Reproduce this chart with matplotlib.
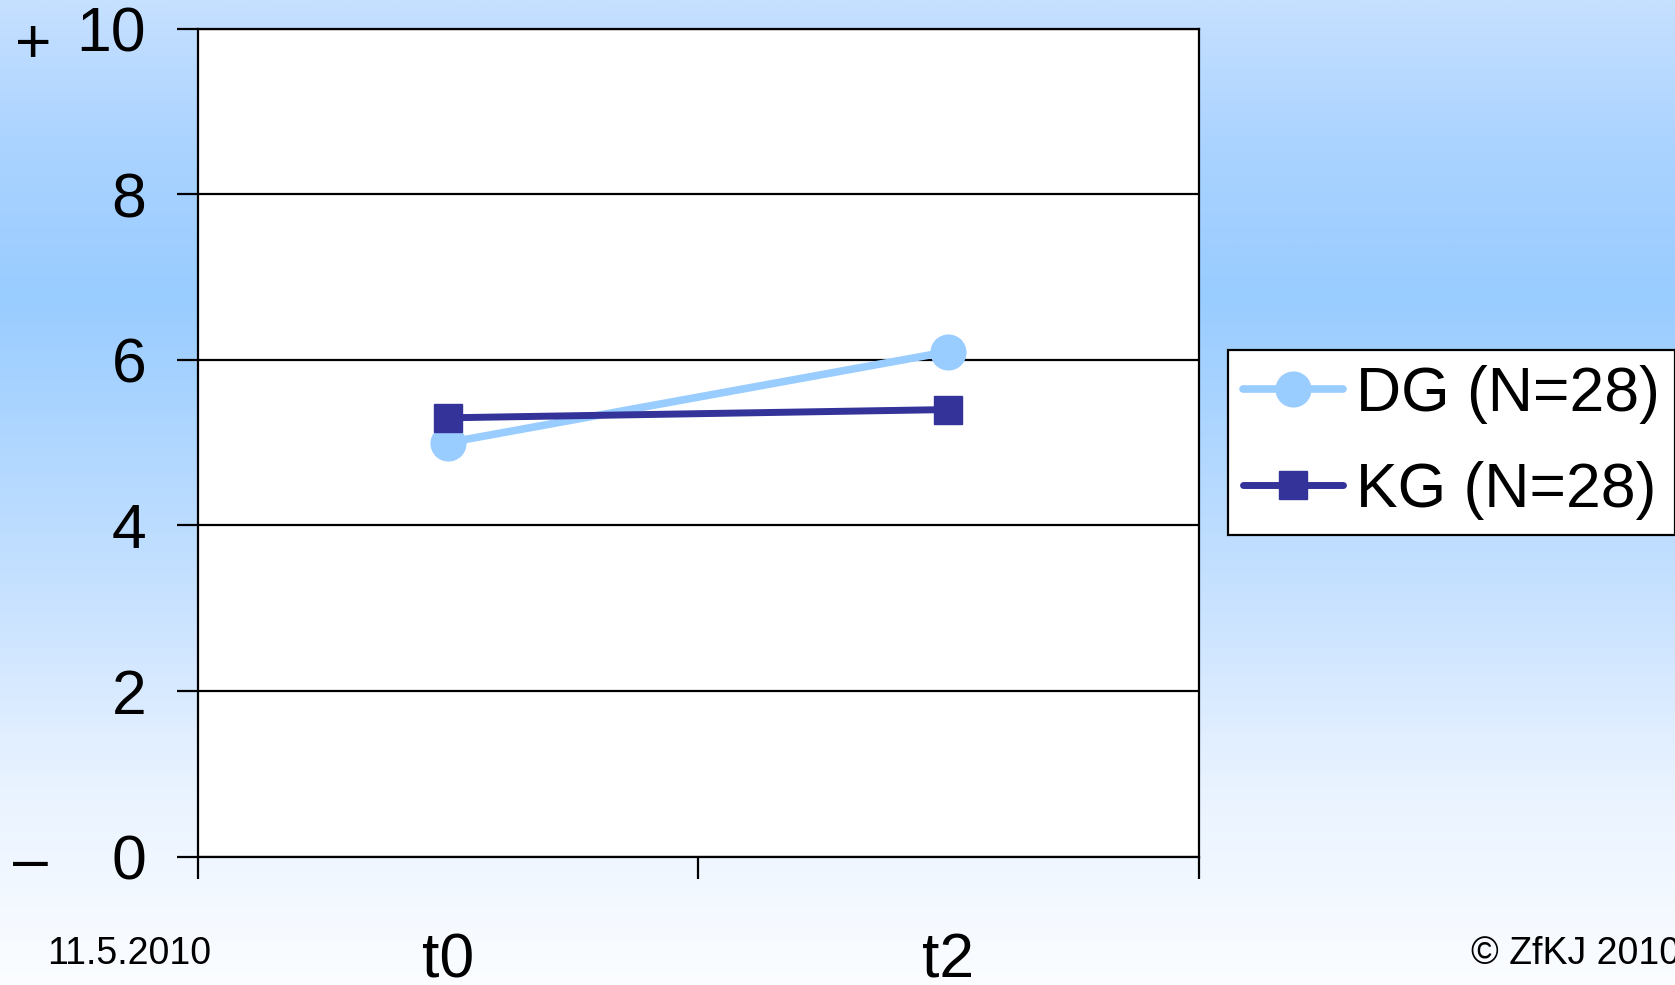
import numpy as np
import matplotlib
matplotlib.use("Agg")
import matplotlib.pyplot as plt
from matplotlib.colors import LinearSegmentedColormap

plt.rcParams['font.family'] = ['Liberation Sans', 'DejaVu Sans']

# Data
categories = ["t0", "t2"]
dg_values = [5.0, 6.1]
kg_values = [5.3, 5.4]
dg_label = "DG (N=28)"
kg_label = "KG (N=28)"
y_ticks = [0, 2, 4, 6, 8, 10]

DG_COLOR = "#99CCFF"
KG_COLOR = "#333399"

fig = plt.figure(figsize=(16.75, 9.85), dpi=100)

# Slide background: vertical blue gradient
bg = fig.add_axes([0, 0, 1, 1], zorder=-10)
stops = [(0.0, "#C6E0FF"), (0.15, "#AAD3FF"), (0.30, "#99CCFF"),
         (0.61, "#C8E2FF"), (0.79, "#E8F2FF"), (1.0, "#FBFDFF")]
cmap = LinearSegmentedColormap.from_list("slide", stops)
grad = np.linspace(0, 1, 512).reshape(-1, 1)
bg.imshow(grad, aspect="auto", cmap=cmap, extent=[0, 1, 1, 0])
bg.set_xlim(0, 1)
bg.set_ylim(1, 0)
bg.axis("off")

ax = fig.add_axes([0.118, 0.1304, 0.5976, 0.8404])
ax.set_facecolor("white")

x = np.arange(len(categories))
ax.plot(x, dg_values, color=DG_COLOR, lw=5.5, marker="o", ms=25,
        mec=DG_COLOR, mfc=DG_COLOR, zorder=3, label=dg_label,
        solid_capstyle="round")
ax.plot(x, kg_values, color=KG_COLOR, lw=5.0, marker="s", ms=20,
        mec=KG_COLOR, mfc=KG_COLOR, zorder=4, label=kg_label,
        solid_capstyle="round")

ax.set_xlim(-0.5, len(categories) - 0.5)
ax.set_ylim(0, 10)

# y axis
ax.set_yticks(y_ticks)
ax.set_yticklabels([str(v) for v in y_ticks], fontsize=45)
ax.yaxis.grid(True, color="black", lw=1.6)
ax.set_axisbelow(True)
ax.tick_params(axis="y", direction="out", length=15, width=1.6, pad=22)

# x axis: boundary ticks, labels at category centres
ax.set_xticks(np.arange(-0.5, len(categories), 1.0))
ax.set_xticklabels([])
ax.tick_params(axis="x", which="major", direction="out", length=16, width=1.6)
ax.set_xticks(x, minor=True)
ax.set_xticklabels(categories, minor=True, fontsize=45)
ax.tick_params(axis="x", which="minor", length=0, pad=54)

for side in ["left", "right", "top", "bottom"]:
    ax.spines[side].set_linewidth(1.6)
    ax.spines[side].set_color("black")

# Scale direction markers
fig.text(0.009, 0.953, "+", fontsize=45, ha="left", va="center")
fig.text(0.008, 0.123, "\u2013", fontsize=45, ha="left", va="center")

# Footer
fig.text(0.028, 0.031, "11.5.2010", fontsize=27, ha="left", va="center")
fig.text(0.878, 0.031, "\u00a9 ZfKJ 2010", fontsize=27, ha="left", va="center")

leg = fig.legend(loc="upper left", bbox_to_anchor=(0.733, 0.645),
                 fontsize=45, frameon=True, fancybox=False, edgecolor="black",
                 handlelength=1.6, handletextpad=0.2, labelspacing=0.58,
                 borderpad=0.25, borderaxespad=0)
leg.get_frame().set_linewidth(1.6)
leg.get_frame().set_facecolor("white")
leg.get_frame().set_alpha(1)

fig.savefig("out.png", dpi=100)
